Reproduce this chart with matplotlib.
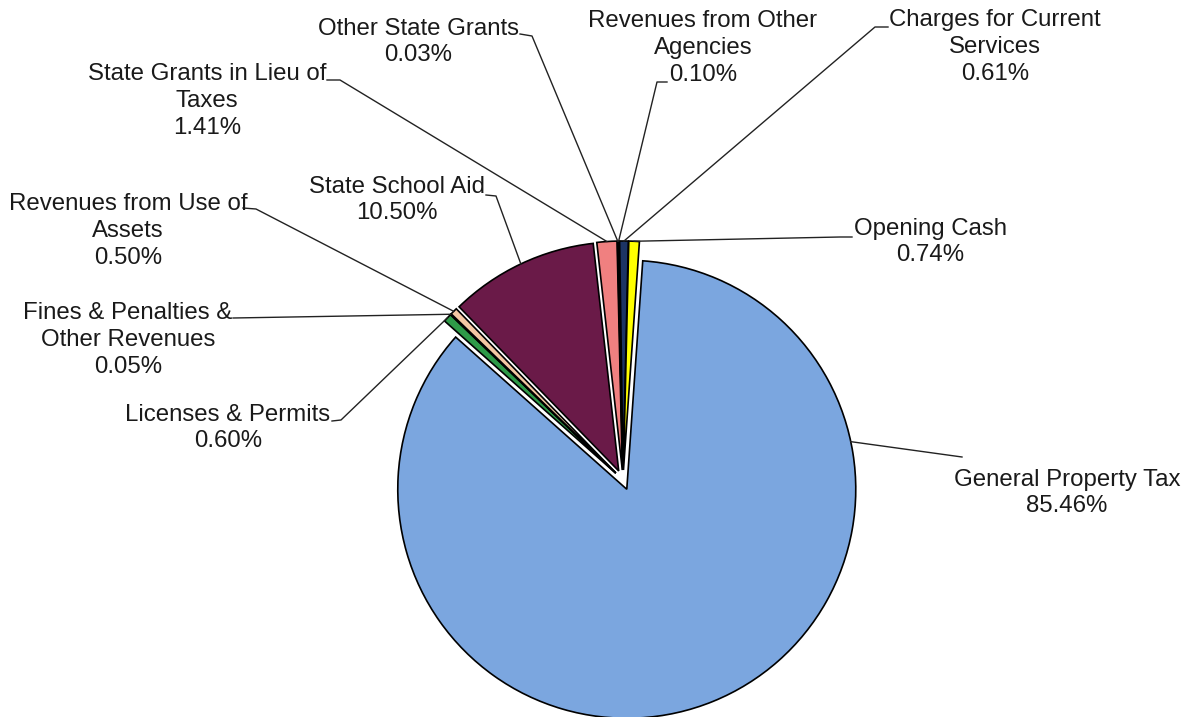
import matplotlib.pyplot as plt
import numpy as np

# revenue shares (percent), clockwise from top
labels = ['General Property Tax', 'Licenses & Permits', 'Fines & Penalties &\nOther Revenues',
          'Revenues from Use of\nAssets', 'State School Aid', 'State Grants in Lieu of\nTaxes',
          'Other State Grants', 'Revenues from Other\nAgencies', 'Charges for Current\nServices',
          'Opening Cash']
shares = [85.46, 0.60, 0.05, 0.50, 10.50, 1.41, 0.03, 0.10, 0.61, 0.74]
colors = ['#7BA6DF', '#2E9A48', '#8C8C8C', '#F4C7A3', '#6A1A48', '#F08080',
          '#B0B0E0', '#404080', '#1C3464', '#FFFF00']

H = 717
fig = plt.figure(figsize=(11.9, 7.17), dpi=100)
ax = fig.add_axes([0, 0, 1, 1])
plt.rcParams['font.family'] = ['Liberation Sans', 'DejaVu Sans']

wedges, _ = ax.pie(shares, colors=colors, startangle=86, counterclock=False,
                   center=(623, H - 480), radius=229, explode=[10] * len(shares),
                   wedgeprops=dict(edgecolor='black', linewidth=1.2))
ax.set_xlim(0, 1190)
ax.set_ylim(0, H)
ax.set_aspect('equal')
ax.axis('off')

# label layout: text centre (px from top-left), leader points near the text, attach angle (None = mid)
layout = [
    ((1067, 493), [(962, 457)], 12),
    ((228, 428), [(332, 421), (341, 420)], None),
    ((128, 340), [(233, 318)], None),
    ((128, 231), [(243, 208), (256, 209)], None),
    ((397, 200), [(486, 195), (496, 196)], None),
    ((207, 101), [(327, 80), (340, 80)], None),
    ((418, 42), [(520, 34), (532, 36)], None),
    ((703, 48), [(667, 82), (657, 82)], None),
    ((995, 47), [(888, 27), (875, 27)], None),
    ((930, 242), [(852, 237), (840, 237)], None),
]

for w, lab, pct, (pos, pts, ang) in zip(wedges, labels, shares, layout):
    if ang is None:
        ang = (w.theta1 + w.theta2) / 2
    cx, cy = w.center
    ex = cx + w.r * np.cos(np.radians(ang))
    ey = cy + w.r * np.sin(np.radians(ang))
    xs = [p[0] for p in pts] + [ex]
    ys = [H - p[1] for p in pts] + [ey]
    ax.plot(xs, ys, color='#222222', linewidth=1.0)
    ax.text(pos[0], H - pos[1], '%s\n%.2f%%' % (lab, pct), ha='center', va='center',
            fontsize=17.3, linespacing=1.28, color='#1a1a1a')

fig.savefig('out.png', dpi=100)
